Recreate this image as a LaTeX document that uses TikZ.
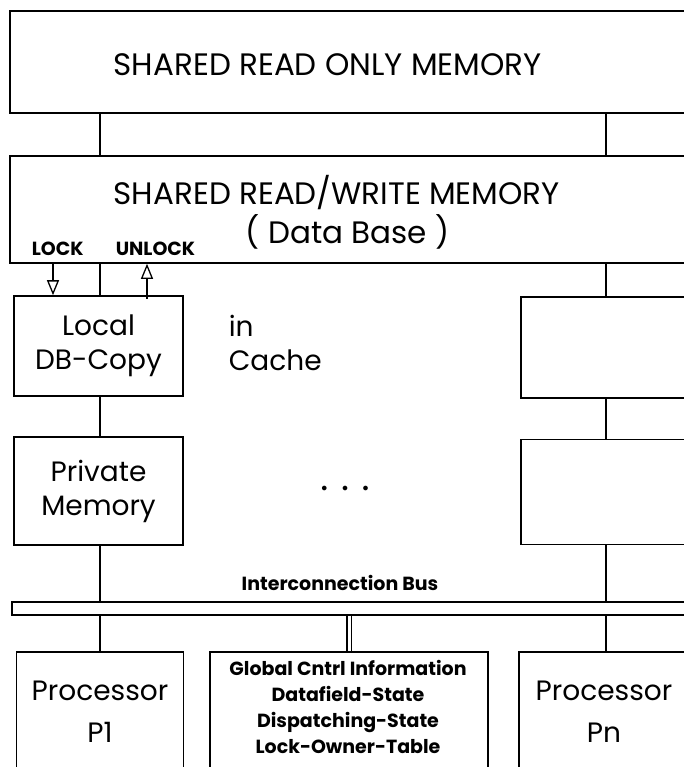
\documentclass[tikz,border=0pt]{standalone}
\usepackage{fontspec}
\setmainfont{Poppins}
\usetikzlibrary{arrows.meta,positioning,calc}

\begin{document}
\begin{tikzpicture}[x=1pt, y=-1pt,
    line width=1.6pt,
    every node/.style={font=\fontsize{28}{34}\selectfont, inner sep=0pt, align=center},
    box/.style={draw, minimum width=#1},
    title/.style={font=\fontsize{31}{36}\selectfont, anchor=west},
    lab/.style={font=\bfseries\fontsize{19}{26}\selectfont},
    proc/.style={font=\fontsize{28}{42}\selectfont, anchor=north},
    lockarr/.style={-{Triangle[open, length=15pt, width=12pt, line width=1.3pt]}}
  ]
  \useasboundingbox (0,0) rectangle (684,767);
  \clip (0,0) rectangle (684,767);
  \coordinate (c1) at (100,0);
  \coordinate (cn) at (606,0);
  \coordinate (cl) at (53,0);
  \coordinate (cu) at (147,0);
  \node[box=720pt, minimum height=102pt] (rom) at (370,62) {};
  \node[box=720pt, minimum height=107pt] (rw) at (370,209.5) {};
  \node[title] (romtxt) at (113,65) {SHARED READ ONLY MEMORY};
  \node[title] (rwtxt) at (113,193) {SHARED READ/WRITE MEMORY};
  \node[title] (dbtxt) at (245,232) {( Data Base )};
  \node[lab, anchor=west] (lock) at (31,249) {LOCK};
  \node[lab, anchor=west] (unlock) at (115,249) {UNLOCK};
  \node[box=169pt, minimum height=100pt] (local) at (98.5,346) {Local\\DB-Copy};
  \node[box=169pt, minimum height=108pt] (priv) at (98.5,491) {Private\\Memory};
  \node[box=240pt, minimum height=101pt] (rtop) at (641,347.5) {};
  \node[box=240pt, minimum height=105pt] (rmid) at (641,492) {};
  \node[anchor=north west, align=left] (cache) at (228,314) {in\\Cache};
  \node (dots) at (345,489) {\fontsize{12}{12}\selectfont$\bullet\mkern18mu\bullet\mkern18mu\bullet$};
  \node[lab] (buslab) at (340,583) {Interconnection Bus};
  \node[box=720pt, minimum height=13pt] (bus) at (372,608.5) {};
  \node[box=167pt, minimum height=160pt, anchor=north] (p1) at (100,651) {};
  \node[box=278pt, minimum height=160pt, anchor=north] (glob) at (349,651) {};
  \node[box=240pt, minimum height=160pt, anchor=north] (pn) at (639,651) {};
  \node[proc] (p1txt) at (100,680) {Processor\\P1};
  \node[proc] (pntxt) at (604,680) {Processor\\Pn};
  \node[lab, anchor=north] (globtxt) at (348,659) {Global Cntrl Information\\Datafield-State\\Dispatching-State\\Lock-Owner-Table};
  \foreach \c in {c1, cn} {
    \draw (rom.south -| \c) -- (rw.north -| \c);
    \draw (bus.south -| \c) -- (p1.north -| \c);
  }
  \draw (rw.south -| c1) -- (local.north -| c1);
  \draw (local.south -| c1) -- (priv.north -| c1);
  \draw (priv.south -| c1) -- (bus.north -| c1);
  \draw (rw.south -| cn) -- (rtop.north -| cn);
  \draw (rtop.south -| cn) -- (rmid.north -| cn);
  \draw (rmid.south -| cn) -- (bus.north -| cn);
  \draw[double, double distance=3pt, line width=1.2pt] (bus.south -| glob.north) -- (glob.north);
  \draw[lockarr] (rw.south -| cl) -- (local.north -| cl);
  \draw[lockarr] ($(local.north -| cu)+(0,4)$) -- (rw.south -| cu);
\end{tikzpicture}
\end{document}
